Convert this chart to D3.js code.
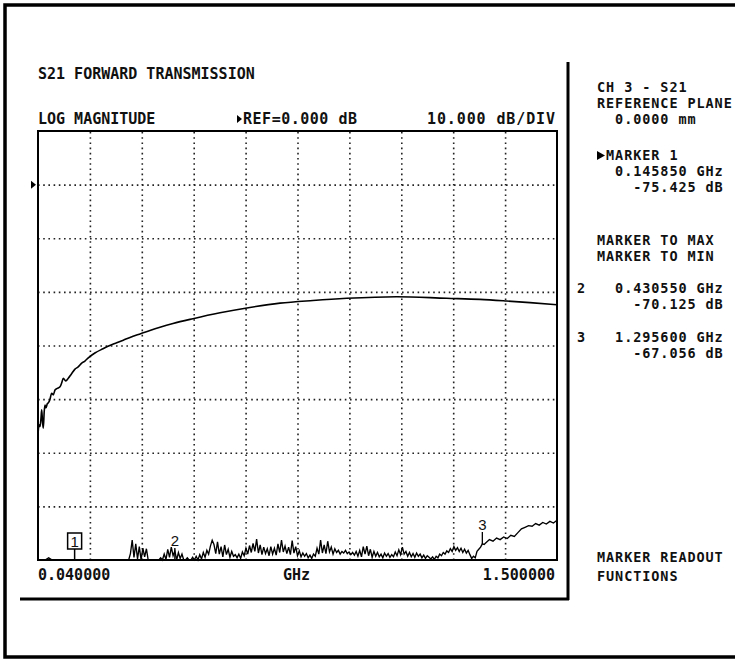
<!DOCTYPE html>
<html><head><meta charset="utf-8">
<script src="https://cdn.jsdelivr.net/npm/d3@7"></script>
<style>
body{margin:0;background:#fff}
svg{display:block}
text{font-family:"DejaVu Sans Mono",monospace;font-weight:bold;font-size:15px;fill:#111;white-space:pre}
text.pn{font-size:13.5px;letter-spacing:0.92px}
.mk{font-family:"Liberation Sans",Arial,sans-serif;font-weight:normal;font-size:15px}
</style>
</head><body>
<svg id="c" width="735" height="660"></svg>
<script>
// ---- data ----
const thruFreq = [0.0400,0.0428,0.0456,0.0484,0.0504,0.0527,0.0549,0.0575,0.0597,0.0625,
  0.0660,0.0690,0.0730,0.0785,0.0830,0.0878,0.0940,0.1019,0.1070,0.1112,
  0.1180,0.1252,0.1340,0.1441,0.1530,0.1629,0.1720,0.1815,0.2000,0.2229,
  0.2420,0.2614,0.2800,0.2988,0.3289,0.3550,0.3832,0.4198,0.4760,0.5520,
  0.6360,0.7208,0.8136,0.9084,1.0491,1.1897,1.2833,1.3585,1.4240,1.5000];
const thruDb = [-46.7,-44.8,-45.1,-43.6,-42.0,-44.2,-45.4,-42.3,-41.1,-41.6,
  -40.9,-40.7,-40.2,-38.9,-39.2,-38.3,-38.0,-37.7,-36.9,-36.1,
  -36.6,-36.1,-35.3,-34.4,-34.0,-33.3,-32.9,-32.3,-31.4,-30.6,
  -30.0,-29.5,-29.0,-28.5,-27.8,-27.2,-26.6,-25.9,-25.0,-23.9,
  -22.9,-22.1,-21.6,-21.2,-20.9,-21.2,-21.4,-21.7,-22.0,-22.4];

const isoFreq = [0.04,0.05,0.06,0.07,0.08,0.09,0.10,0.11,0.12,0.13,
  0.14,0.15,0.16,0.17,0.18,0.19,0.20,0.21,0.22,0.23,
  0.24,0.25,0.26,0.27,0.28,0.29,
  0.295,0.300,0.305,0.310,0.315,0.320,0.325,0.330,0.335,0.340,
  0.345,0.350,0.355,0.360,0.365,0.370,0.375,0.380,0.385,0.390,
  0.395,0.400,0.405,0.410,0.415,0.420,0.425,0.430,0.435,0.440,
  0.445,0.450,0.455,0.460,0.465,0.470,0.475,0.480,0.485,0.490,
  0.495,0.500,0.505,0.510,0.515,0.520,0.525,0.530,0.535,0.540,
  0.545,0.550,0.555,0.560,0.565,0.570,0.575,0.580,0.585,0.590,
  0.595,0.600,0.605,0.610,0.615,0.620,0.625,0.630,0.635,0.640,
  0.645,0.650,0.655,0.660,0.665,0.670,0.675,0.680,0.685,0.690,
  0.695,0.700,0.705,0.710,0.715,0.720,0.725,0.730,0.735,0.740,
  0.745,0.750,0.755,0.760,0.765,0.770,0.775,0.780,0.785,0.790,
  0.795,0.800,0.805,0.810,0.815,0.820,0.825,0.830,0.835,0.840,
  0.845,0.850,0.855,0.860,0.865,0.870,0.875,0.880,0.885,0.890,
  0.895,0.900,0.905,0.910,0.915,0.920,0.925,0.930,0.935,0.940,
  0.945,0.950,0.955,0.960,0.965,0.970,0.975,0.980,0.985,0.990,
  0.995,1.000,1.005,1.010,1.015,1.020,1.025,1.030,1.035,1.040,
  1.045,1.050,1.055,1.060,1.065,1.070,1.075,1.080,1.085,1.090,
  1.095,1.100,1.105,1.110,1.115,1.120,1.125,1.130,1.135,1.140,
  1.145,1.150,1.155,1.160,1.165,1.170,1.175,1.180,1.185,1.190,
  1.195,1.200,1.205,1.210,1.215,1.220,1.225,1.230,1.235,1.240,
  1.245,1.250,1.255,1.260,1.265,1.270,1.275,1.280,1.285,1.290,
  1.295,
  1.30,1.31,1.32,1.33,1.34,1.35,1.36,1.37,1.38,1.39,
  1.40,1.41,1.42,1.43,1.44,1.45,1.46,1.47,1.48,1.49,1.50];
const isoDb = [-74.0,-76.2,-73.5,-69.6,-74.1,-75.8,-77.0,-74.6,-76.3,-75.1,
  -77.4,-75.4,-76.8,-74.9,-77.2,-75.6,-76.4,-74.3,-75.9,-77.1,
  -74.8,-76.0,-75.2,-73.9,-74.7,-72.8,
  -71.0,-68.8,-66.3,-69.5,-67.0,-69.8,-67.5,-70.2,-67.8,-69.4,
  -67.9,-70.5,-72.0,-73.1,-72.2,-73.5,-72.6,-71.4,-69.6,-70.4,
  -68.9,-69.9,-68.0,-69.5,-67.6,-69.2,-68.3,-70.1,-68.6,-69.7,
  -68.9,-70.3,-71.5,-69.6,-70.8,-72.0,-69.5,-70.6,-69.3,-70.2,
  -69.0,-69.8,-68.6,-69.5,-68.2,-68.9,-67.4,-66.3,-67.1,-68.8,
  -66.6,-68.9,-67.5,-69.4,-67.2,-69.0,-68.0,-69.5,-68.4,-69.3,
  -69.0,-69.6,-68.9,-69.7,-68.5,-69.2,-67.8,-68.9,-67.3,-68.6,
  -66.9,-68.4,-66.1,-68.7,-67.2,-69.0,-67.6,-68.8,-67.9,-69.2,
  -67.5,-68.9,-67.8,-69.1,-67.0,-68.6,-66.3,-68.5,-67.4,-68.8,
  -67.6,-69.0,-66.4,-68.7,-67.5,-69.2,-68.3,-69.4,-68.7,-69.3,
  -68.8,-69.6,-69.1,-69.7,-68.9,-69.3,-67.8,-68.9,-66.3,-68.7,
  -67.2,-68.8,-66.5,-68.5,-67.6,-68.9,-67.9,-68.6,-68.2,-68.9,
  -68.4,-68.7,-68.2,-68.8,-68.5,-69.0,-68.6,-69.1,-68.4,-69.3,
  -68.2,-69.4,-67.5,-68.9,-67.4,-69.2,-68.0,-69.5,-68.4,-69.3,
  -68.6,-69.4,-68.9,-69.6,-68.7,-69.3,-68.8,-69.5,-69.0,-69.4,
  -68.5,-69.2,-68.1,-69.0,-67.6,-68.9,-68.4,-69.3,-68.6,-69.4,
  -68.8,-69.5,-68.7,-69.3,-68.9,-69.6,-69.1,-69.7,-69.2,-69.5,
  -69.8,-69.4,-69.9,-69.3,-69.6,-68.9,-69.2,-68.6,-68.9,-68.3,
  -68.6,-67.9,-68.4,-67.5,-68.2,-67.7,-68.4,-67.8,-68.6,-68.0,
  -68.7,-68.2,-69.0,-69.7,-69.3,-69.6,-68.4,-68.0,-67.6,-67.0,
  -67.1,
  -66.8,-66.2,-66.5,-65.9,-66.2,-65.7,-66.0,-65.4,-65.6,-64.9,
  -64.2,-63.9,-63.6,-63.7,-63.2,-63.5,-63.0,-63.3,-62.8,-63.1,-62.6];

const markerIds = [1, 2, 3];
const markerFreq = [0.145850, 0.430550, 1.295600];
const markerDb = [-75.425, -70.125, -67.056];

const freqStart = 0.04, freqStop = 1.5;
const refDb = 0, dbPerDiv = 10;
const xGridGHz = [0.186,0.332,0.478,0.624,0.770,0.916,1.062,1.208,1.354];
const yGridDb = [0,-10,-20,-30,-40,-50,-60];

const titleText = "S21 FORWARD TRANSMISSION";
const formatText = "LOG MAGNITUDE";
const refText = "REF=0.000 dB";
const scaleText = "10.000 dB/DIV";
const startLabel = "0.040000";
const unitLabel = "GHz";
const stopLabel = "1.500000";
const panelText = ["CH 3 - S21","REFERENCE PLANE","0.0000 mm",
  "MARKER 1","0.145850 GHz","-75.425 dB",
  "MARKER TO MAX","MARKER TO MIN",
  "0.430550 GHz","-70.125 dB",
  "1.295600 GHz","-67.056 dB",
  "MARKER READOUT","FUNCTIONS"];

// ---- layout ----
const svg = d3.select("#c");
const L = 38, R = 557, T = 131, B = 560;
const x = d3.scaleLinear().domain([freqStart, freqStop]).range([L, R]);
const y = d3.scaleLinear().domain([refDb - 7*dbPerDiv, refDb + dbPerDiv]).range([B, T]).clamp(true);

// outer frame
svg.append("rect").attr("x",5).attr("y",5).attr("width",800).attr("height",652)
  .attr("fill","none").attr("stroke","#000").attr("stroke-width",3.5);
// separators
svg.append("line").attr("x1",20).attr("x2",569).attr("y1",599).attr("y2",599).attr("stroke","#000").attr("stroke-width",3);
svg.append("line").attr("x1",568).attr("x2",568).attr("y1",62).attr("y2",600).attr("stroke","#000").attr("stroke-width",3);

// grid via axes
const gx = svg.append("g").attr("transform",`translate(0,${B})`)
  .call(d3.axisBottom(x).tickValues(xGridGHz).tickSize(-(B-T)).tickFormat(""));
const gy = svg.append("g").attr("transform",`translate(${L},0)`)
  .call(d3.axisLeft(y).tickValues(yGridDb).tickSize(-(R-L)).tickFormat(""));
[gx, gy].forEach(g => {
  g.select(".domain").remove();
  g.selectAll(".tick line").attr("stroke","#222").attr("stroke-width",1.6).attr("stroke-dasharray","1.6,3.6");
});

// plot box
svg.append("rect").attr("x",L).attr("y",T).attr("width",R-L).attr("height",B-T)
  .attr("fill","none").attr("stroke","#000").attr("stroke-width",2);

// ref arrow at left
const yr = y(refDb);
svg.append("path").attr("d",`M31,${yr-4}L36,${yr}L31,${yr+4}Z`).attr("fill","#000");

// traces
const lineSmooth = d3.line().x(d => x(d[0])).y(d => y(d[1])).curve(d3.curveMonotoneX);
const line = d3.line().x(d => x(d[0])).y(d => y(d[1]));
svg.append("path").datum(d3.zip(thruFreq, thruDb)).attr("d", lineSmooth)
  .attr("fill","none").attr("stroke","#000").attr("stroke-width",1.6).attr("stroke-linejoin","round");
svg.append("path").datum(d3.zip(isoFreq, isoDb)).attr("d", line)
  .attr("fill","none").attr("stroke","#000").attr("stroke-width",1.35).attr("stroke-linejoin","miter");

// markers
markerIds.forEach((id, i) => {
  const mx = x(markerFreq[i]), my = y(markerDb[i]);
  if (id === 1) {
    svg.append("rect").attr("x",mx-8).attr("y",533).attr("width",14).attr("height",16)
      .attr("fill","#fff").attr("stroke","#000").attr("stroke-width",1.5);
    svg.append("text").attr("class","mk").attr("x",mx-1).attr("y",546.5).attr("text-anchor","middle").text(id);
    svg.append("line").attr("x1",mx-1).attr("x2",mx-1).attr("y1",549).attr("y2",my).attr("stroke","#000").attr("stroke-width",1.5);
  } else {
    const ly = id === 2 ? 546 : 530;
    svg.append("text").attr("class","mk").attr("x",mx-2).attr("y",ly).attr("text-anchor","middle").text(id);
    svg.append("line").attr("x1",mx-2).attr("x2",mx-2).attr("y1",ly+2).attr("y2",my).attr("stroke","#000").attr("stroke-width",1.3);
  }
});

// header texts
svg.append("text").attr("x",38).attr("y",79).text(titleText);
svg.append("text").attr("x",38).attr("y",124).text(formatText);
svg.append("path").attr("d","M237,115L242,119L237,123Z").attr("fill","#000");
svg.append("text").attr("x",243).attr("y",124).attr("textLength",114).attr("lengthAdjust","spacing").text(refText);
svg.append("text").attr("x",427).attr("y",124).attr("textLength",128).attr("lengthAdjust","spacing").text(scaleText);

// bottom labels
svg.append("text").attr("x",38).attr("y",580).text(startLabel);
svg.append("text").attr("x",283).attr("y",580).text(unitLabel);
svg.append("text").attr("x",555).attr("y",580).attr("text-anchor","end").text(stopLabel);

// right panel
const cx0 = 597, cw = 9.05;
const panelPos = [[0,92],[0,108],[2,124],[1,160],[2,176],[4,192],[0,245],[0,261],[2,293],[4,309],[2,342],[4,358],[0,562],[0,581]];
panelText.forEach((t,i) => {
  svg.append("text").attr("class","pn").attr("x",cx0 + panelPos[i][0]*cw).attr("y",panelPos[i][1]).text(t);
});
svg.append("path").attr("d","M597,151L605,155.5L597,160Z").attr("fill","#000");
svg.append("text").attr("class","pn").attr("x",577).attr("y",293).text(markerIds[1]);
svg.append("text").attr("class","pn").attr("x",577).attr("y",342).text(markerIds[2]);
</script>
</body></html>
